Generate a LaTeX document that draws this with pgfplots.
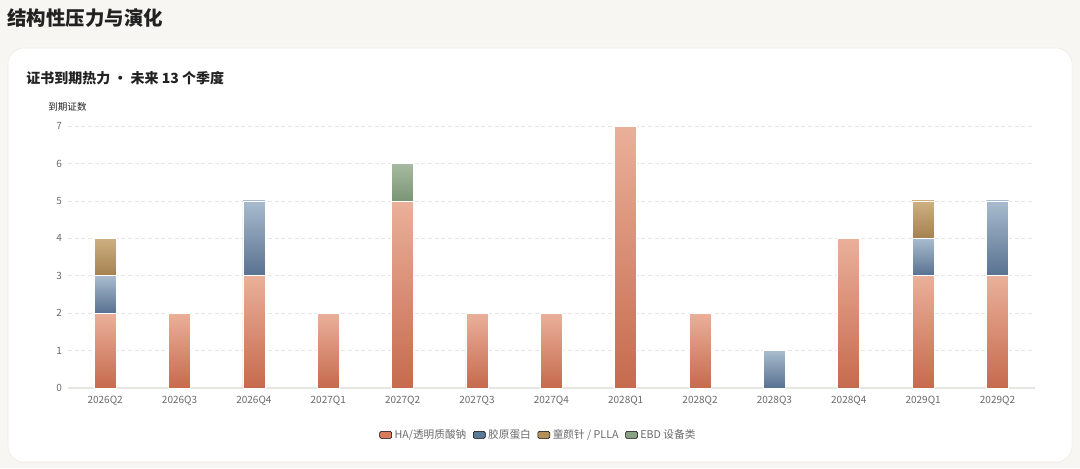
\documentclass[border=0pt]{standalone}
\usepackage{pgfplots}
\pgfplotsset{compat=1.18}
\usepackage{fontspec}
\setmainfont{Noto Sans CJK SC}
\definecolor{bgc}{HTML}{F7F6F2}
\definecolor{cardb}{HTML}{ECEAE4}
\definecolor{txt}{HTML}{222222}
\definecolor{tick}{HTML}{6A6A6A}
\definecolor{gridc}{HTML}{E8E6E0}
\definecolor{hat}{HTML}{EAB09A}\definecolor{ham}{HTML}{DC7E61}\definecolor{hab}{HTML}{C66A4D}
\definecolor{bt}{HTML}{A9BCCF}\definecolor{bm}{HTML}{6E88A5}\definecolor{bb}{HTML}{587190}
\definecolor{tt}{HTML}{CDB082}\definecolor{tm}{HTML}{B38F5E}\definecolor{tb}{HTML}{A5814F}
\definecolor{gt}{HTML}{A8BBA2}\definecolor{gm}{HTML}{8CA287}\definecolor{gb}{HTML}{7B9475}
\definecolor{hac}{HTML}{D97A5B}\definecolor{blc}{HTML}{5B7A9A}\definecolor{tnc}{HTML}{B38F5A}\definecolor{grc}{HTML}{8AA283}
\begin{document}
\begin{tikzpicture}[x=0.75pt,y=0.75pt]
\fill[bgc] (0,0) rectangle (1080,468);
\filldraw[fill=white, draw=cardb, rounded corners=12pt] (8,6) rectangle (1072,420);
\node[anchor=west, inner sep=0, text=txt, font=\bfseries\fontsize{14.6}{16}\selectfont] at (7,450) {结构性压力与演化};
\node[anchor=west, inner sep=0, text=txt, font=\bfseries\fontsize{10.5}{12}\selectfont] at (26,390) {证书到期热力 • 未来 13 个季度};
\node[anchor=west, inner sep=0, text=txt, font=\fontsize{7.2}{8}\selectfont] at (48,361) {到期证数};
\begin{axis}[
  at={(51pt,60pt)}, anchor=south west,
  scale only axis, width=725pt, height=196.5pt,
  xmin=-0.5, xmax=12.5, ymin=0, ymax=7,
  xtick={0,...,12},
  xticklabels={2026Q2,2026Q3,2026Q4,2027Q1,2027Q2,2027Q3,2027Q4,2028Q1,2028Q2,2028Q3,2028Q4,2029Q1,2029Q2},
  ytick={0,...,7},
  major tick length=0pt,
  axis lines*=left,
  y axis line style={draw=none},
  x axis line style={draw=gridc, line width=0.8pt, -},
  ymajorgrids, major grid style={gridc, dash pattern=on 3pt off 2pt, line width=0.5pt},
  /pgf/number format/assume math mode=true,
  ticklabel style={text=tick, font=\fontsize{7.5}{9}\selectfont},
  xticklabel style={yshift=-2.5pt},
  yticklabel style={xshift=-1pt},
  ha/.style={draw=white, line width=0.5pt, top color=hat, middle color=ham, bottom color=hab},
  co/.style={draw=white, line width=0.5pt, top color=bt, middle color=bm, bottom color=bb},
  pl/.style={draw=white, line width=0.5pt, top color=tt, middle color=tm, bottom color=tb},
  eb/.style={draw=white, line width=0.5pt, top color=gt, middle color=gm, bottom color=gb},
  legend image code/.code={\fill[#1, rounded corners=1pt] (0pt,-2.6pt) rectangle (9pt,2.6pt);},
  legend style={draw=none, fill=none, at={(0.487,-0.179)}, anchor=center, legend columns=4,
    font=\fontsize{8}{9}\selectfont, text=tick,
    /tikz/every even column/.append style={column sep=3pt}},
]
\addlegendimage{fill=hac}
\addlegendimage{fill=blc}
\addlegendimage{fill=tnc}
\addlegendimage{fill=grc}
% HA/透明质酸钠
\addplot[ha] coordinates {(-0.148,0) (0.148,0) (0.148,2) (-0.148,2)} -- cycle;
\addplot[ha] coordinates {(0.852,0) (1.148,0) (1.148,2) (0.852,2)} -- cycle;
\addplot[ha] coordinates {(1.852,0) (2.148,0) (2.148,3) (1.852,3)} -- cycle;
\addplot[ha] coordinates {(2.852,0) (3.148,0) (3.148,2) (2.852,2)} -- cycle;
\addplot[ha] coordinates {(3.852,0) (4.148,0) (4.148,5) (3.852,5)} -- cycle;
\addplot[ha] coordinates {(4.852,0) (5.148,0) (5.148,2) (4.852,2)} -- cycle;
\addplot[ha] coordinates {(5.852,0) (6.148,0) (6.148,2) (5.852,2)} -- cycle;
\addplot[ha] coordinates {(6.852,0) (7.148,0) (7.148,7) (6.852,7)} -- cycle;
\addplot[ha] coordinates {(7.852,0) (8.148,0) (8.148,2) (7.852,2)} -- cycle;
\addplot[ha] coordinates {(9.852,0) (10.148,0) (10.148,4) (9.852,4)} -- cycle;
\addplot[ha] coordinates {(10.852,0) (11.148,0) (11.148,3) (10.852,3)} -- cycle;
\addplot[ha] coordinates {(11.852,0) (12.148,0) (12.148,3) (11.852,3)} -- cycle;
% 胶原蛋白
\addplot[co] coordinates {(-0.148,2) (0.148,2) (0.148,3) (-0.148,3)} -- cycle;
\addplot[co] coordinates {(1.852,3) (2.148,3) (2.148,5) (1.852,5)} -- cycle;
\addplot[co] coordinates {(8.852,0) (9.148,0) (9.148,1) (8.852,1)} -- cycle;
\addplot[co] coordinates {(10.852,3) (11.148,3) (11.148,4) (10.852,4)} -- cycle;
\addplot[co] coordinates {(11.852,3) (12.148,3) (12.148,5) (11.852,5)} -- cycle;
% 童颜针 / PLLA
\addplot[pl] coordinates {(-0.148,3) (0.148,3) (0.148,4) (-0.148,4)} -- cycle;
\addplot[pl] coordinates {(10.852,4) (11.148,4) (11.148,5) (10.852,5)} -- cycle;
% EBD 设备类
\addplot[eb] coordinates {(3.852,5) (4.148,5) (4.148,6) (3.852,6)} -- cycle;
\legend{HA/透明质酸钠,胶原蛋白,童颜针 / PLLA,EBD 设备类}
\end{axis}
\end{tikzpicture}
\end{document}
